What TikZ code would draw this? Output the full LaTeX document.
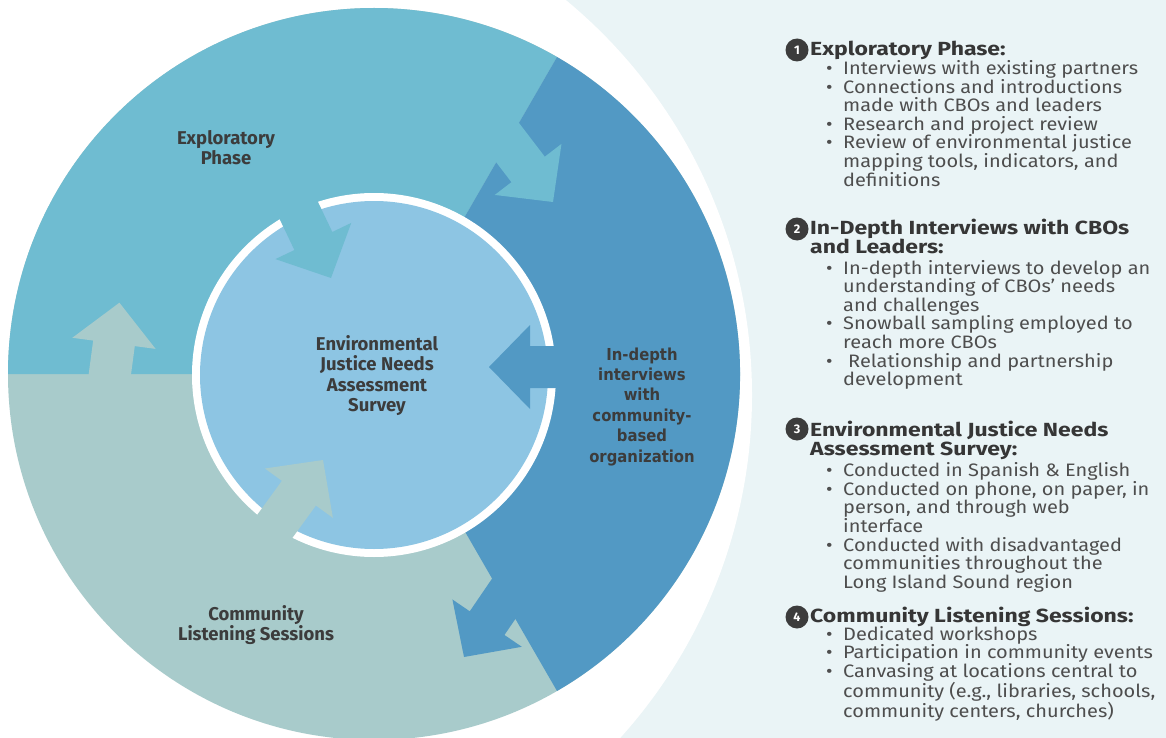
\documentclass[tikz,border=0pt]{standalone}
\usepackage{fontspec}
\setmainfont{Fira Sans}[FakeStretch=1.11]
\newfontfamily\headfont{Fira Sans}[FakeStretch=1.21]
\newfontfamily\lblfont{Fira Sans}
\newfontfamily\verdfont{DejaVu Sans}[FakeStretch=0.9]
\definecolor{explo}{HTML}{6FBCD1}
\definecolor{deep}{HTML}{5299C4}
\definecolor{comm}{HTML}{A8CBCB}
\definecolor{core}{HTML}{8DC5E3}
\definecolor{pale}{HTML}{EAF4F6}
\definecolor{ink}{HTML}{3C3C3C}
\definecolor{headc}{HTML}{363636}
\definecolor{bodyc}{HTML}{4E4E4E}
\newcommand\bul{\makebox[17pt][l]{\textbullet}}
\newcommand\cont{\hspace*{17pt}}
\newcommand\blockarrow[5]{%
  \pgfmathsetmacro\arrdx{cos(#4)}%
  \pgfmathsetmacro\arrdy{sin(#4)}%
  \fill[#1] (#2,#3)
    -- ({#2-41*\arrdx-42*\arrdy},{#3-41*\arrdy+42*\arrdx})
    -- ({#2-41*\arrdx-21*\arrdy},{#3-41*\arrdy+21*\arrdx})
    -- ({#2-#5*\arrdx-21*\arrdy},{#3-#5*\arrdy+21*\arrdx})
    -- ({#2-#5*\arrdx+21*\arrdy},{#3-#5*\arrdy-21*\arrdx})
    -- ({#2-41*\arrdx+21*\arrdy},{#3-41*\arrdy-21*\arrdx})
    -- ({#2-41*\arrdx+42*\arrdy},{#3-41*\arrdy-42*\arrdx})
    -- cycle;}
\tikzset{
  lbl/.style={font=\lblfont\fontsize{18.5}{20.5}\selectfont\bfseries, text=ink, align=center, inner sep=0pt, anchor=base},
  deeplbl/.style={font=\verdfont\fontsize{16.5}{20.4}\selectfont\bfseries, text=ink, align=center, inner sep=0pt, anchor=base},
  head/.style={font=\headfont\fontsize{19}{18.8}\selectfont\bfseries, text=headc, align=left, inner sep=0pt, anchor=base west},
  bodytxt/.style={font=\fontsize{18}{18.6}\selectfont, text=bodyc, align=left, inner sep=0pt, anchor=base west},
  badge/.style={circle, fill=ink, inner sep=0pt, minimum size=23pt, text=white, font=\lblfont\fontsize{12.5}{12.5}\selectfont\bfseries},
}
\begin{document}
\begin{tikzpicture}[x=1pt,y=-1pt]
\useasboundingbox (0,0) rectangle (1166,738);
\clip (0,0) rectangle (1166,738);
% background
\fill[pale] (0,0) rectangle (1166,738);
\fill[white] (240,395) circle[radius=512];
% outer ring segments
\coordinate (O) at (374,374);
\fill[comm] (O) circle[radius=366];
\fill[explo] (O) -- ++(180:366) arc[start angle=180, end angle=300, radius=366] -- cycle;
\fill[deep] (O) -- ++(-60:366) arc[start angle=-60, end angle=60, radius=366] -- cycle;
% inner disk
\fill[white] (374,375) circle[radius=182];
\fill[core] (374,375) circle[radius=174];
% arrows
\blockarrow{explo}{331}{278}{64.5}{120}
\blockarrow{explo}{553}{202}{52.6}{100}
\blockarrow{deep}{489}{367}{180}{100}
\blockarrow{deep}{464}{657}{124.3}{100}
\blockarrow{comm}{323}{460}{-54}{120}
\blockarrow{comm}{119.4}{302.7}{-82.4}{100}
% labels (anchor = baseline of last line)
\node[lbl] (lexp) at (226,165) {Exploratory\\Phase};
\node[lbl] (lcore) at (377,411.5) {Environmental\\Justice Needs\\Assessment\\Survey};
\node[deeplbl] (ldeep) at (642,462) {In-depth\\interviews\\with\\community-\\based\\organization};
\node[lbl] (lcomm) at (256,640.5) {Community\\Listening Sessions};
% right panel
\node[badge] (b1) at (797,50) {1};
\node[head] (h1) at (810,56) {Exploratory Phase:};
\node[bodytxt] (t1) at (826,186) {\bul Interviews with existing partners\\
\bul Connections and introductions\\
\cont made with CBOs and leaders\\
\bul Research and project review\\
\bul Review of environmental justice\\
\cont mapping tools, indicators, and\\
\cont definitions};
\node[badge] (b2) at (797,229) {2};
\node[head] (h2) at (810,253.5) {In-Depth Interviews with CBOs\\and Leaders:};
\node[bodytxt] (t2) at (826,385.7) {\bul In-depth interviews to develop an\\
\cont understanding of CBOs’ needs\\
\cont and challenges\\
\bul Snowball sampling employed to\\
\cont reach more CBOs\\
\bul\hspace*{5pt}Relationship and partnership\\
\cont development};
\node[badge] (b3) at (797,429) {3};
\node[head] (h3) at (810,455) {Environmental Justice Needs\\Assessment Survey:};
\node[bodytxt] (t3) at (826,588.3) {\bul Conducted in Spanish \& English\\
\bul Conducted on phone, on paper, in\\
\cont person, and through web\\
\cont interface\\
\bul Conducted with disadvantaged\\
\cont communities throughout the\\
\cont Long Island Sound region};
\node[badge] (b4) at (797,617) {4};
\node[head] (h4) at (810,622) {Community Listening Sessions:};
\node[bodytxt] (t4) at (826,717.5) {\bul Dedicated workshops\\
\bul Participation in community events\\
\bul Canvasing at locations central to\\
\cont community (e.g., libraries, schools,\\
\cont community centers, churches)};
\end{tikzpicture}
\end{document}
